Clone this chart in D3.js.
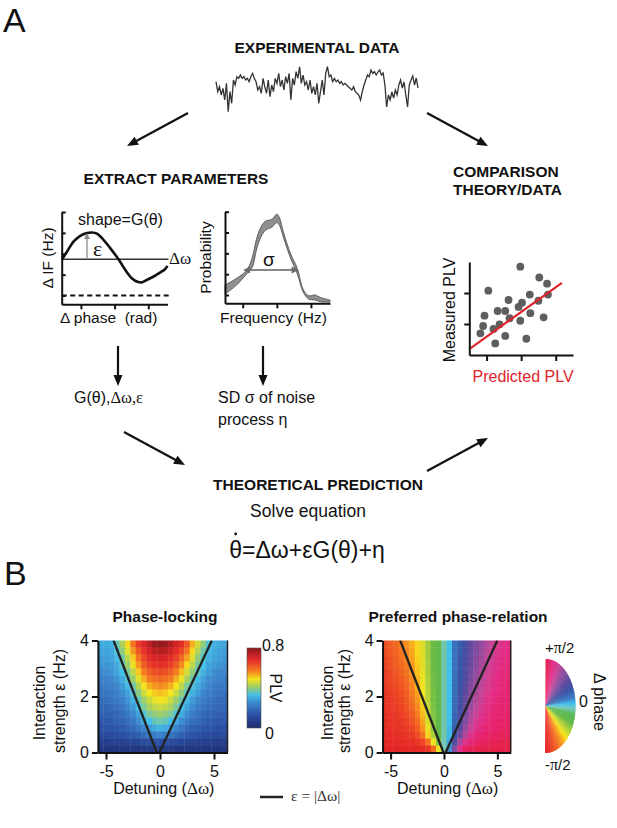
<!DOCTYPE html>
<html>
<head>
<meta charset="utf-8">
<script src="https://cdn.jsdelivr.net/npm/d3@7"></script>
<style>
  html, body { margin: 0; padding: 0; background: #fff; }
  svg { display: block; font-family: "Liberation Sans", Arial, Helvetica, sans-serif; }
  text { white-space: pre; }
</style>
</head>
<body>
<div id="figura"></div>
<script>
// ---------- data ----------

// noisy recording at the top (arbitrary units, equally spaced samples)
const traceValues = [22,-8,7,-18,2,-33,17,-68,-8,-43,27,12,37,32,42,32,37,27,32,22,37,47,32,22,-3,7,-13,32,7,-13,
  27,-23,12,-8,32,17,47,7,27,-3,37,17,47,-33,32,12,52,32,67,17,42,12,22,-3,27,-13,7,-18,17,-43,
  -8,27,-18,47,67,37,42,22,32,22,27,17,22,12,17,12,7,2,-3,7,-8,-13,-18,-33,-8,12,27,42,37,57,
  47,52,42,51,57,42,48,12,-54,-18,-33,-9,-27,-3,-18,12,27,3,21,-18,-54,12,27,39,12,33,3];

// interaction function G(theta): phase (rad) and instantaneous frequency difference (Hz)
const gPhase = [-3.12,-2.82,-2.43,-2.04,-1.64,-1.34,-1.05,-0.66,-0.26,0.23,0.63,1.02,1.36,1.62,1.91,2.30,2.70,2.99,3.14];
const gValue = [1.74,2.11,2.59,2.86,2.99,3.02,2.96,2.67,2.27,1.74,1.23,0.83,0.66,0.63,0.75,0.90,1.10,1.26,1.42];
const deltaOmegaLevel = 1.74;
const epsArrowPhase = -1.64;
const gPhaseTicks = [-2, 0, 2];
const gValueTicks = [0, 1, 2, 3, 4];

// frequency distribution band
const freqHz    = [2.4, 4.1, 5.6, 6.4, 7.0, 7.6, 8.3, 9.3, 10.0, 10.4, 11.0, 12.0, 13.0, 13.9, 14.7, 15.6, 16.4, 17.8];
const probUpper = [.024,.040,.060,.090,.133,.161,.177,.182,.194,.185,.149,.100,.064,.012,-.002,.000,-.006,-.012];
const probLower = [.002,.024,.051,.066,.108,.137,.155,.163,.174,.167,.137,.089,.051,.006,-.010,-.012,-.016,-.017];
const sigmaSpan = [5.05, 13.2];
const sigmaLevel = 0.06;
const freqTicks = [5, 10, 15];
const probTicks = [0, 0.05, 0.1, 0.15, 0.2];

// measured vs predicted PLV
const predictedPLV = [0.395,0.505,0.55,0.555,0.50,0.45,0.21,0.327,0.405,0.385,0.264,0.308,0.188,0.333,0.453,0.53,0.395,0.275,0.18,0.24,0.164,0.308,0.43,0.25];
const measuredPLV  = [0.57,0.50,0.46,0.39,0.35,0.39,0.415,0.355,0.337,0.31,0.284,0.284,0.254,0.237,0.27,0.243,0.221,0.198,0.187,0.168,0.14,0.123,0.105,0.075];
const fitPredicted = [0.106, 0.636];
const fitMeasured  = [0.043, 0.466];
const scatterXTicks = [0.2, 0.4, 0.6];
const scatterYTicks = [0.2, 0.4];

// heat maps: columns = detuning (cell centres), rows = interaction strength (top row first)
const detuning = [-5.5,-5,-4.5,-4,-3.5,-3,-2.5,-2,-1.5,-1,-0.5,0,0.5,1,1.5,2,2.5,3,3.5,4,4.5,5,5.5,6];
const strength = [3.875,3.625,3.375,3.125,2.875,2.625,2.375,2.125,1.875,1.625,1.375,1.125,0.875,0.625,0.375,0.125];

const plvGrid = [
  [.30,.30,.31,.36,.42,.50,.58,.66,.70,.74,.78,.79,.78,.75,.71,.68,.62,.53,.46,.40,.34,.31,.30,.29],
  [.29,.29,.30,.34,.40,.47,.55,.62,.67,.71,.74,.75,.74,.72,.68,.64,.58,.50,.43,.37,.32,.30,.29,.28],
  [.28,.28,.29,.32,.37,.44,.51,.58,.64,.68,.70,.71,.70,.68,.65,.60,.54,.47,.40,.35,.31,.29,.28,.27],
  [.27,.27,.28,.30,.35,.41,.48,.55,.61,.65,.67,.68,.67,.65,.61,.56,.50,.44,.38,.33,.29,.28,.27,.26],
  [.25,.26,.27,.29,.33,.38,.44,.51,.57,.61,.63,.64,.63,.61,.57,.52,.46,.40,.35,.31,.28,.26,.25,.25],
  [.24,.24,.25,.27,.30,.35,.41,.47,.53,.57,.59,.60,.59,.57,.53,.48,.42,.37,.32,.29,.26,.25,.24,.23],
  [.22,.23,.24,.25,.28,.32,.37,.43,.49,.53,.55,.56,.55,.53,.49,.44,.38,.34,.30,.27,.25,.23,.22,.22],
  [.21,.21,.22,.24,.26,.29,.34,.39,.45,.49,.51,.52,.51,.49,.45,.40,.35,.31,.28,.25,.23,.22,.21,.20],
  [.19,.20,.21,.22,.24,.27,.31,.36,.41,.45,.48,.49,.48,.45,.41,.37,.32,.28,.25,.23,.21,.20,.19,.19],
  [.18,.18,.19,.20,.22,.25,.28,.33,.38,.42,.44,.45,.44,.42,.38,.33,.29,.26,.23,.21,.20,.19,.18,.18],
  [.17,.17,.17,.18,.20,.22,.25,.29,.34,.38,.40,.41,.40,.38,.34,.30,.26,.23,.21,.19,.18,.17,.17,.16],
  [.15,.15,.16,.17,.18,.20,.22,.26,.30,.33,.36,.37,.36,.33,.30,.26,.23,.20,.19,.17,.16,.15,.15,.15],
  [.13,.14,.14,.15,.16,.17,.19,.22,.25,.28,.30,.31,.30,.28,.25,.22,.19,.17,.16,.15,.14,.14,.13,.13],
  [.11,.11,.12,.12,.13,.14,.15,.17,.19,.21,.23,.24,.23,.21,.19,.17,.15,.14,.13,.12,.12,.11,.11,.11],
  [.07,.07,.08,.08,.08,.09,.09,.10,.11,.12,.13,.13,.13,.12,.11,.10,.09,.09,.08,.08,.08,.07,.07,.07],
  [.04,.04,.04,.04,.05,.05,.05,.05,.05,.06,.06,.06,.06,.06,.05,.05,.05,.05,.05,.04,.04,.04,.04,.04]
];

// preferred phase, as a fraction of pi/2 (-1 .. 1)
const phaseGrid = [
  [-0.80,-0.77,-0.73,-0.69,-0.64,-0.58,-0.52,-0.45,-0.35,-0.26,-0.22,-0.06,0.04,0.16,0.22,0.32,0.42,0.50,0.56,0.64,0.71,0.77,0.81,0.83],
  [-0.81,-0.78,-0.74,-0.70,-0.65,-0.59,-0.52,-0.45,-0.35,-0.26,-0.22,-0.06,0.04,0.16,0.22,0.33,0.43,0.51,0.58,0.66,0.72,0.78,0.82,0.84],
  [-0.83,-0.80,-0.76,-0.71,-0.66,-0.60,-0.53,-0.46,-0.35,-0.26,-0.22,-0.06,0.04,0.16,0.23,0.34,0.44,0.52,0.60,0.68,0.74,0.79,0.83,0.85],
  [-0.84,-0.81,-0.77,-0.73,-0.68,-0.62,-0.54,-0.46,-0.36,-0.26,-0.22,-0.06,0.04,0.16,0.23,0.35,0.45,0.54,0.62,0.70,0.76,0.80,0.84,0.86],
  [-0.85,-0.83,-0.79,-0.75,-0.70,-0.63,-0.55,-0.47,-0.36,-0.27,-0.22,-0.06,0.04,0.16,0.24,0.36,0.47,0.56,0.64,0.72,0.77,0.82,0.85,0.87],
  [-0.86,-0.84,-0.81,-0.77,-0.72,-0.65,-0.57,-0.48,-0.37,-0.27,-0.22,-0.06,0.04,0.17,0.25,0.37,0.49,0.58,0.66,0.73,0.79,0.83,0.86,0.88],
  [-0.88,-0.86,-0.83,-0.79,-0.74,-0.67,-0.58,-0.49,-0.37,-0.27,-0.22,-0.06,0.04,0.17,0.26,0.39,0.51,0.60,0.68,0.75,0.80,0.84,0.87,0.89],
  [-0.89,-0.87,-0.85,-0.81,-0.76,-0.69,-0.60,-0.50,-0.38,-0.28,-0.22,-0.06,0.04,0.17,0.27,0.41,0.53,0.62,0.70,0.77,0.82,0.85,0.88,0.90],
  [-0.90,-0.89,-0.86,-0.83,-0.78,-0.71,-0.62,-0.52,-0.39,-0.28,-0.22,-0.06,0.04,0.18,0.28,0.43,0.55,0.65,0.72,0.79,0.83,0.86,0.89,0.90],
  [-0.91,-0.90,-0.88,-0.85,-0.80,-0.74,-0.65,-0.54,-0.40,-0.29,-0.22,-0.06,0.04,0.18,0.30,0.45,0.58,0.68,0.75,0.81,0.85,0.88,0.90,0.91],
  [-0.92,-0.91,-0.89,-0.87,-0.83,-0.77,-0.68,-0.56,-0.42,-0.30,-0.22,-0.06,0.04,0.19,0.32,0.48,0.61,0.71,0.78,0.83,0.87,0.89,0.91,0.92],
  [-0.93,-0.92,-0.91,-0.89,-0.86,-0.80,-0.72,-0.59,-0.44,-0.31,-0.23,-0.06,0.04,0.20,0.35,0.52,0.65,0.75,0.81,0.86,0.89,0.91,0.92,0.93],
  [-0.94,-0.93,-0.92,-0.91,-0.88,-0.84,-0.76,-0.63,-0.47,-0.33,-0.23,-0.06,0.05,0.22,0.39,0.57,0.70,0.79,0.85,0.89,0.91,0.92,0.93,0.94],
  [-0.95,-0.95,-0.94,-0.93,-0.91,-0.88,-0.82,-0.70,-0.53,-0.37,-0.25,-0.06,0.05,0.26,0.46,0.65,0.78,0.86,0.90,0.92,0.93,0.94,0.95,0.95],
  [-0.97,-0.96,-0.96,-0.95,-0.94,-0.93,-0.90,-0.84,-0.70,-0.48,-0.30,-0.05,0.07,0.36,0.62,0.80,0.88,0.92,0.94,0.95,0.96,0.96,0.97,0.97],
  [-0.98,-0.98,-0.98,-0.97,-0.97,-0.96,-0.96,-0.95,-0.90,-0.72,-0.48,-0.05,0.10,0.52,0.80,0.92,0.95,0.96,0.97,0.97,0.98,0.98,0.98,0.98]
];

// epsilon = |delta omega| lines as drawn (detuning, strength)
const lockLinesLeft  = [[[-0.30, 0], [-4.30, 4]], [[-0.05, 0], [4.80, 4]]];
const lockLinesRight = [[[-0.05, 0], [-4.10, 4]], [[0.15, 0], [5.00, 4]]];
const detuningTicks = [-5, 0, 5];
const strengthTicks = [0, 2, 4];

// colour keys
const plvStops  = [0, 0.13, 0.25, 0.33, 0.42, 0.49, 0.57, 0.69, 0.8];
const plvColors = ['#1f2a6e','#2b4fa3','#3c86cc','#45c0e8','#a8d05a','#f5e51e','#f47c20','#e3262a','#8b1a1a'];
const phaseStops  = [-1, -0.85, -0.72, -0.6, -0.5, -0.38, -0.25, -0.12, -0.04, 0.04, 0.12, 0.25, 0.4, 0.55, 0.7, 0.82, 0.92, 1];
const phaseColors = ['#e21f26','#ec4324','#f36c21','#f8a01c','#f6e51c','#b4d23a','#62b948','#5cb85a','#76c8c0','#40c0ec',
                     '#3c7dc4','#3653a6','#5a4a9e','#8e4b9e','#c54597','#e32d86','#e6226a','#e31f3c'];

// ---------- drawing ----------
const W = 617, H = 828;
const SANS = '"Liberation Sans", Arial, Helvetica, sans-serif';
const SERIF = '"Liberation Serif", "Times New Roman", serif';

const svg = d3.select('#figura').append('svg')
  .attr('width', W).attr('height', H)
  .attr('viewBox', `0 0 ${W} ${H}`);
svg.append('rect').attr('width', W).attr('height', H).attr('fill', '#fff');

const addText = (x, y, str, size, opts = {}) => {
  const t = svg.append('text')
    .attr('x', x).attr('y', y)
    .attr('font-size', size)
    .attr('font-family', opts.family || SANS)
    .attr('fill', opts.fill || '#111')
    .attr('text-anchor', opts.anchor || 'start')
    .text(str);
  if (opts.weight) t.attr('font-weight', opts.weight);
  return t;
};

const addRotated = (x, y, angle, str, size) =>
  svg.append('text')
    .attr('transform', `translate(${x},${y}) rotate(${angle})`)
    .attr('text-anchor', 'middle')
    .attr('font-size', size)
    .attr('fill', '#111')
    .text(str);

// straight arrow with a filled head
const drawArrow = (g, x1, y1, x2, y2, o = {}) => {
  const color = o.color || '#111', len = o.len || 11, half = o.half || 4.5;
  const a = Math.atan2(y2 - y1, x2 - x1);
  const bx = x2 - len * Math.cos(a), by = y2 - len * Math.sin(a);
  g.append('line')
    .attr('x1', x1).attr('y1', y1)
    .attr('x2', bx + 2 * Math.cos(a)).attr('y2', by + 2 * Math.sin(a))
    .attr('stroke', color).attr('stroke-width', o.width || 2.2);
  g.append('path')
    .attr('d', `M${x2},${y2}L${bx - half * Math.sin(a)},${by + half * Math.cos(a)}L${bx + half * Math.sin(a)},${by - half * Math.cos(a)}Z`)
    .attr('fill', color);
};

const styleAxis = (g, size) => {
  g.attr('font-family', SANS).attr('font-size', size || 15);
  g.select('.domain').attr('stroke', '#111').attr('stroke-width', 2);
  g.selectAll('.tick line').attr('stroke', '#111').attr('stroke-width', 2);
  g.selectAll('.tick text').attr('fill', '#111');
};

// ---------- panel A ----------
addText(3, 32, 'A', 34);
addText(317, 53, 'EXPERIMENTAL DATA', 15.5, { anchor: 'middle', weight: 'bold' });

// recording trace
const tx = d3.scaleLinear().domain([0, traceValues.length - 1]).range([216, 418]);
const ty = d3.scaleLinear().domain([-70, 70]).range([112.3, 65.7]);
svg.append('path')
  .datum(traceValues)
  .attr('d', d3.line().x((d, i) => tx(i)).y(d => ty(d)))
  .attr('fill', 'none').attr('stroke', '#333').attr('stroke-width', 1.3);

drawArrow(svg, 188, 113, 127, 146);
drawArrow(svg, 427, 113, 488, 146);

addText(176, 184, 'EXTRACT PARAMETERS', 15.5, { anchor: 'middle', weight: 'bold' });
addText(453, 177, 'COMPARISON', 15.5, { weight: 'bold' });
addText(453, 195, 'THEORY/DATA', 15.5, { weight: 'bold' });

// --- G(theta) mini plot
const gx = d3.scaleLinear().domain([-Math.PI, Math.PI]).range([61.7, 167.5]);
const gy = d3.scaleLinear().domain([-0.42, 4]).range([304.3, 212]);
const gPlot = svg.append('g');

gPlot.append('line')
  .attr('x1', gx(-Math.PI)).attr('x2', 168.5)
  .attr('y1', gy(deltaOmegaLevel)).attr('y2', gy(deltaOmegaLevel))
  .attr('stroke', '#333').attr('stroke-width', 1.6);
gPlot.append('line')
  .attr('x1', gx(-Math.PI)).attr('x2', 170)
  .attr('y1', gy(0)).attr('y2', gy(0))
  .attr('stroke', '#111').attr('stroke-width', 2).attr('stroke-dasharray', '5,3.5');
gPlot.append('path')
  .datum(d3.zip(gPhase, gValue))
  .attr('d', d3.line().x(d => gx(d[0])).y(d => gy(d[1])).curve(d3.curveCatmullRom))
  .attr('fill', 'none').attr('stroke', '#111').attr('stroke-width', 2.6);
drawArrow(gPlot, gx(epsArrowPhase), gy(deltaOmegaLevel), gx(epsArrowPhase), gy(2.99),
  { color: '#8c8c8c', width: 1.3, len: 6, half: 3 });

styleAxis(gPlot.append('g')
  .attr('transform', `translate(${gx(-Math.PI)},0)`)
  .call(d3.axisLeft(gy).tickValues(gValueTicks).tickSize(-4).tickSizeOuter(0).tickFormat('')));
styleAxis(gPlot.append('g')
  .attr('transform', `translate(0,${gy(-0.42)})`)
  .call(d3.axisBottom(gx).tickValues(gPhaseTicks).tickSize(5).tickSizeOuter(0).tickFormat('')));

addText(78, 225, 'shape=G(θ)', 16);
addText(93, 256, 'ε', 22, { family: SERIF });
addText(169, 264, 'Δω', 17, { family: SERIF });
addRotated(53, 258, -90, 'Δ IF (Hz)', 15.5);
addText(60, 323, 'Δ phase  (rad)', 15.5);

// --- frequency distribution mini plot
const fx = d3.scaleLinear().domain([2.4, 17.8]).range([225, 330]);
const fy = d3.scaleLinear().domain([-0.02, 0.2]).range([303.3, 211.7]);
const fPlot = svg.append('g');

fPlot.append('path')
  .datum(d3.range(freqHz.length))
  .attr('d', d3.area()
    .x(i => fx(freqHz[i]))
    .y0(i => fy(probLower[i]))
    .y1(i => fy(probUpper[i]))
    .curve(d3.curveCatmullRom))
  .attr('fill', '#8f8f8f').attr('stroke', '#555').attr('stroke-width', 0.9);

const sy0 = fy(sigmaLevel);
drawArrow(fPlot, fx((sigmaSpan[0] + sigmaSpan[1]) / 2), sy0, fx(sigmaSpan[1]), sy0,
  { color: '#6a6a6a', width: 1.6, len: 7, half: 3.5 });
drawArrow(fPlot, fx((sigmaSpan[0] + sigmaSpan[1]) / 2), sy0, fx(sigmaSpan[0]), sy0,
  { color: '#6a6a6a', width: 1.6, len: 7, half: 3.5 });

styleAxis(fPlot.append('g')
  .attr('transform', `translate(${fx(2.4)},0)`)
  .call(d3.axisLeft(fy).tickValues(probTicks).tickSize(-4).tickSizeOuter(0).tickFormat('')));
styleAxis(fPlot.append('g')
  .attr('transform', `translate(0,${fy(-0.02)})`)
  .call(d3.axisBottom(fx).tickValues(freqTicks).tickSize(5).tickSizeOuter(0).tickFormat('')));

addText(263, 266, 'σ', 19);
addRotated(211, 257.5, -90, 'Probability', 15.5);
addText(220, 323, 'Frequency (Hz)', 15.5);

// --- scatter: measured vs predicted
const sx = d3.scaleLinear().domain([0.1, 0.7]).range([469.3, 573]);
const sy = d3.scaleLinear().domain([0, 0.6]).range([355, 262]);
const sPlot = svg.append('g');

sPlot.selectAll('circle.pt')
  .data(d3.zip(predictedPLV, measuredPLV))
  .enter().append('circle')
  .attr('class', 'pt')
  .attr('cx', d => sx(d[0])).attr('cy', d => sy(d[1]))
  .attr('r', 3.9).attr('fill', '#5e5e5e');

sPlot.append('line')
  .attr('x1', sx(fitPredicted[0])).attr('y1', sy(fitMeasured[0]))
  .attr('x2', sx(fitPredicted[1])).attr('y2', sy(fitMeasured[1]))
  .attr('stroke', '#e0242b').attr('stroke-width', 2.2);

styleAxis(sPlot.append('g')
  .attr('transform', `translate(${sx(0.1)},0)`)
  .call(d3.axisLeft(sy).tickValues(scatterYTicks).tickSize(5).tickSizeOuter(0).tickFormat('')));
styleAxis(sPlot.append('g')
  .attr('transform', `translate(0,${sy(0)})`)
  .call(d3.axisBottom(sx).tickValues(scatterXTicks).tickSize(6).tickSizeOuter(0).tickFormat('')));

addRotated(455, 310, -90, 'Measured PLV', 16);
addText(472.5, 382, 'Predicted PLV', 16, { fill: '#e0242b' });

// --- lower flow of panel A
drawArrow(svg, 118, 346, 118, 386);
drawArrow(svg, 263, 346, 263, 386);

const gTxt = addText(74, 403, '', 16);
gTxt.append('tspan').text('G(θ),');
gTxt.append('tspan').attr('font-family', SERIF).attr('font-size', 16.5).text('Δω,ε');

addText(218, 403, 'SD σ of noise', 16);
addText(218, 425, 'process η', 16);

drawArrow(svg, 124, 432, 185, 465);
drawArrow(svg, 427, 471, 488, 438);

addText(318, 490, 'THEORETICAL PREDICTION', 15.5, { anchor: 'middle', weight: 'bold' });
addText(308, 517, 'Solve equation', 17.5, { anchor: 'middle' });

const eq = addText(0, 558, 'θ=Δω+εG(θ)+η', 23);
const eqW = eq.node().getComputedTextLength();
const eqX = 307 - eqW / 2;
eq.attr('x', eqX);
const thetaW = eq.node().getSubStringLength(0, 1);
svg.append('circle').attr('cx', eqX + thetaW / 2).attr('cy', 534).attr('r', 1.4).attr('fill', '#111');

// ---------- panel B ----------
addText(4, 585, 'B', 34);

const plvColor = d3.scaleLinear().domain(plvStops).range(plvColors).clamp(true);
const phaseColor = d3.scaleLinear().domain(phaseStops).range(phaseColors).clamp(true);

const heatPanel = (x0, x1, grid, colorOf, lines, title, cx) => {
  const x = d3.scaleLinear().domain([-5.75, 6.25]).range([x0, x1]);
  const y = d3.scaleLinear().domain([0, 4]).range([752.5, 640.5]);
  const g = svg.append('g');
  const cw = x(0.5) - x(0), ch = y(0) - y(0.25);

  grid.forEach((row, i) => {
    g.selectAll(null)
      .data(row)
      .enter().append('rect')
      .attr('x', (d, j) => x(detuning[j] - 0.25))
      .attr('y', y(strength[i] + 0.125))
      .attr('width', cw + 0.4)
      .attr('height', ch + 0.4)
      .attr('fill', d => colorOf(d));
  });

  const clipId = 'clip' + Math.round(x0);
  g.append('clipPath').attr('id', clipId)
    .append('rect').attr('x', x0).attr('y', y(4)).attr('width', x1 - x0).attr('height', y(0) - y(4));
  g.selectAll('line.lock')
    .data(lines)
    .enter().append('line')
    .attr('class', 'lock')
    .attr('clip-path', `url(#${clipId})`)
    .attr('x1', d => x(d[0][0])).attr('y1', d => y(d[0][1]))
    .attr('x2', d => x(d[1][0])).attr('y2', d => y(d[1][1]))
    .attr('stroke', '#222').attr('stroke-width', 2.3);

  g.append('line')
    .attr('x1', x1).attr('x2', x1).attr('y1', y(4)).attr('y2', y(0))
    .attr('stroke', '#222').attr('stroke-width', 1.5);

  // plain labels: "4", "-5" (hyphen, as in the figure)
  const plain = d => String(d);
  styleAxis(g.append('g')
    .attr('transform', `translate(${x0},0)`)
    .call(d3.axisLeft(y).tickValues(strengthTicks).tickFormat(plain).tickSize(6).tickPadding(3).tickSizeOuter(0)), 16);
  styleAxis(g.append('g')
    .attr('transform', `translate(0,${y(0)})`)
    .call(d3.axisBottom(x).tickValues(detuningTicks).tickFormat(plain).tickSize(7).tickPadding(6).tickSizeOuter(0)), 16);

  addText(cx, 622, title, 15.5, { anchor: 'middle', weight: 'bold' });
  const dt = addText(x(0.35), 794, 'Detuning (', 16, { anchor: 'middle' });
  dt.append('tspan').attr('font-family', SERIF).attr('font-size', 17).text('Δω');
  dt.append('tspan').text(')');
};

heatPanel(97.9, 227.5, plvGrid, plvColor, lockLinesLeft, 'Phase-locking', 165);
heatPanel(382.6, 510.7, phaseGrid, phaseColor, lockLinesRight, 'Preferred phase-relation', 458);

// y labels of both heat maps
[[45, 65], [333, 350]].forEach(([a, b]) => {
  addRotated(a, 703, -90, 'Interaction', 16);
  addRotated(b, 701, -90, 'strength ε (Hz)', 16);
});

// PLV colour bar
const defs = svg.append('defs');
const grad = defs.append('linearGradient').attr('id', 'plvGrad')
  .attr('x1', 0).attr('y1', 1).attr('x2', 0).attr('y2', 0);
plvStops.forEach((s, i) => grad.append('stop').attr('offset', s / 0.8).attr('stop-color', plvColors[i]));
svg.append('rect')
  .attr('x', 247).attr('y', 648).attr('width', 14).attr('height', 80)
  .attr('fill', 'url(#plvGrad)').attr('stroke', '#555').attr('stroke-width', 0.6);
addText(262, 651, '0.8', 16);
addText(265, 739, '0', 16);
addRotated(270, 688, 90, 'PLV', 16);

// phase colour key (half disc)
const keyArc = d3.arc().innerRadius(0).outerRadius(47);
const keyN = 120;
const key = svg.append('g').attr('transform', 'translate(545.5,706) scale(0.64,1)');
key.selectAll('path')
  .data(d3.range(keyN))
  .enter().append('path')
  .attr('d', k => keyArc({ startAngle: k * Math.PI / keyN, endAngle: (k + 1.6) * Math.PI / keyN }))
  .attr('fill', k => phaseColor(1 - 2 * (k + 0.5) / keyN));

const plusPi = addText(545, 653, '+', 15);
plusPi.append('tspan').attr('font-family', SERIF).attr('font-size', 16).text('π');
plusPi.append('tspan').text('/2');
const minusPi = addText(545, 770, '-', 15);
minusPi.append('tspan').attr('font-family', SERIF).attr('font-size', 16).text('π');
minusPi.append('tspan').text('/2');
addText(579, 707, '0', 16);
addRotated(594, 702, 90, 'Δ phase', 16);

// legend for the black lines
svg.append('line').attr('x1', 260).attr('x2', 283).attr('y1', 797).attr('y2', 797)
  .attr('stroke', '#222').attr('stroke-width', 2.5);
addText(291, 801, 'ε = |Δω|', 15.5, { family: SERIF, fill: '#333' });
</script>
</body>
</html>
